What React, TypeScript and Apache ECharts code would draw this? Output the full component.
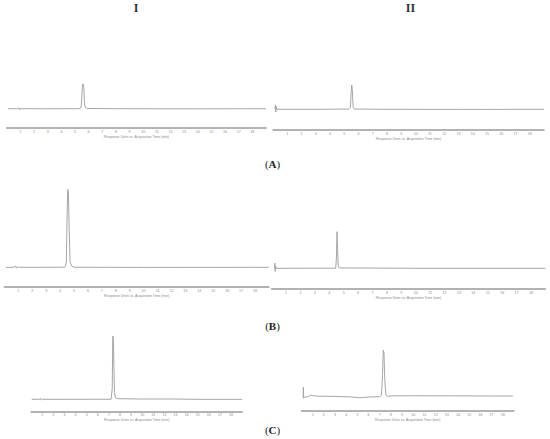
import React, { useEffect, useRef } from "react";
import * as echarts from "echarts";

// Retention-time axis ticks (min)
const tickLabels = [1, 2, 3, 4, 5, 6, 7, 8, 9, 10, 11, 12, 13, 14, 15, 16, 17, 18];
const xAxisTitle = "Response Units vs. Acquisition Time (min)";
const columnTitles = ["I", "II"];
const rowLabels = ["A", "B", "C"];

// Chromatograms: [time (min), relative response]
const traceAI: [number, number][] = [
  [0.1, 43.5], [0.8, 43.5], [0.9, 45.5], [0.95, 41], [1.0, 43.5], [3, 43.3], [5.3, 43.5],
  [5.45, 46], [5.5, 70], [5.55, 99], [5.6, 100], [5.65, 92], [5.7, 55], [5.78, 45.5],
  [5.9, 44], [8, 43.5], [12, 43.2], [16, 43.3], [19, 43.4],
];
const traceAII: [number, number][] = [
  [0.14, 46], [0.17, 56], [0.2, 40], [0.23, 52], [0.27, 46], [3, 46], [5.3, 46.5],
  [5.43, 50], [5.48, 85], [5.52, 100], [5.56, 90], [5.62, 50], [5.7, 46.5], [8, 46],
  [13, 45.8], [19, 46],
];
const traceBI: [number, number][] = [
  [0.1, 19.9], [0.7, 19.9], [0.8, 21.5], [0.87, 19], [0.95, 20.3], [1.1, 19.9], [4.35, 20],
  [4.45, 25], [4.5, 70], [4.55, 100], [4.6, 97], [4.65, 60], [4.72, 25], [4.85, 21],
  [5, 20], [10, 19.8], [19, 19.9],
];
const traceBII: [number, number][] = [
  [0.2, 35.8], [0.22, 45], [0.25, 30], [0.28, 40], [0.32, 35.8], [4.45, 36], [4.5, 55],
  [4.54, 100], [4.58, 70], [4.62, 40], [4.7, 36.5], [10, 35.8], [19, 35.8],
];
const traceCI: [number, number][] = [
  [0.05, 15.9], [0.75, 15.9], [0.82, 17.5], [0.9, 15], [1, 15.9], [7.2, 16], [7.3, 30],
  [7.35, 100], [7.4, 98], [7.45, 60], [7.5, 25], [7.6, 18], [7.8, 16.8], [10, 16.3],
  [13, 16.3], [15, 15.9], [19, 15.9],
];
const traceCII: [number, number][] = [
  [0.15, 22], [0.17, 39], [0.19, 21], [0.25, 22.5], [0.6, 23.5], [0.8, 26], [1.1, 25],
  [1.5, 24.3], [3, 24], [4.5, 23], [5.2, 21.8], [6, 22.8], [7, 23.5], [7.15, 26],
  [7.25, 60], [7.32, 100], [7.38, 95], [7.45, 50], [7.55, 26], [7.7, 24], [8, 24.8],
  [10, 25], [14, 24.8], [17, 24.6], [18.9, 24.6],
];

const traces = [traceAI, traceAII, traceBI, traceBII, traceCI, traceCII];

// Panel layout (px): left, width, top, height
const panels = [
  { left: 6.7, width: 259.3, top: 84, height: 43.7 },
  { left: 273, width: 271, top: 85, height: 45 },
  { left: 4.4, width: 264.5, top: 189.3, height: 97.4 },
  { left: 271.6, width: 273.8, top: 231.7, height: 57 },
  { left: 31.2, width: 210.9, top: 336, height: 75.3 },
  { left: 301.5, width: 212.4, top: 350, height: 61 },
];

export default function App() {
  const ref = useRef<HTMLDivElement>(null);
  useEffect(() => {
    if (!ref.current) return;
    const chart = echarts.init(ref.current, null, { renderer: "svg" });
    const grid = panels.map((p) => ({ left: p.left, width: p.width, top: p.top, height: p.height }));
    const xAxis = panels.map((_, i) => ({
      type: "value" as const,
      gridIndex: i,
      min: 0,
      max: 19,
      interval: 1,
      name: xAxisTitle,
      nameLocation: "middle" as const,
      nameGap: 6,
      nameTextStyle: { fontSize: 3.5, color: "#888", fontFamily: "Liberation Sans" },
      axisLine: { show: true, onZero: false, lineStyle: { color: "#9a9a9a", width: 1.5 } },
      axisTick: { show: false },
      splitLine: { show: false },
      axisLabel: {
        fontSize: 3.6,
        color: "#8a8a8a",
        margin: 2,
        fontFamily: "Liberation Sans",
        formatter: (v: number) => (tickLabels.indexOf(v) >= 0 ? String(v) : ""),
      },
    }));
    const yAxis = panels.map((_, i) => ({
      type: "value" as const,
      gridIndex: i,
      min: 0,
      max: 100,
      show: false,
    }));
    const series = traces.map((d, i) => ({
      type: "line" as const,
      xAxisIndex: i,
      yAxisIndex: i,
      data: d,
      showSymbol: false,
      symbol: "none",
      clip: false,
      lineStyle: { color: "#a6a6a6", width: 1 },
    }));
    const rowY = [164, 325.5, 429.5];
    const graphic: any[] = [
      { type: "text", x: 136, y: 7.5, style: { text: columnTitles[0], font: "bold 12px 'Liberation Serif'", fill: "#333", align: "center", verticalAlign: "middle" } },
      { type: "text", x: 410.5, y: 7.5, style: { text: columnTitles[1], font: "bold 12px 'Liberation Serif'", fill: "#333", align: "center", verticalAlign: "middle" } },
      ...rowLabels.map((r, i) => ({
        type: "text",
        x: 272.5,
        y: rowY[i],
        style: {
          text: "(" + "{b|" + r + "})",
          font: "11px 'Liberation Serif'",
          fill: "#222",
          align: "center",
          verticalAlign: "middle",
          rich: { b: { fontWeight: "bold", fontSize: 11, fontFamily: "Liberation Serif", fill: "#222" } },
        },
      })),
    ];
    chart.setOption({
      animation: false,
      backgroundColor: "#ffffff",
      grid,
      xAxis,
      yAxis,
      series,
      graphic,
    });
    return () => chart.dispose();
  }, []);
  return (
    <div
      ref={ref}
      style={{ position: "fixed", left: 0, top: 0, width: 550, height: 439, background: "#fff" }}
    />
  );
}
